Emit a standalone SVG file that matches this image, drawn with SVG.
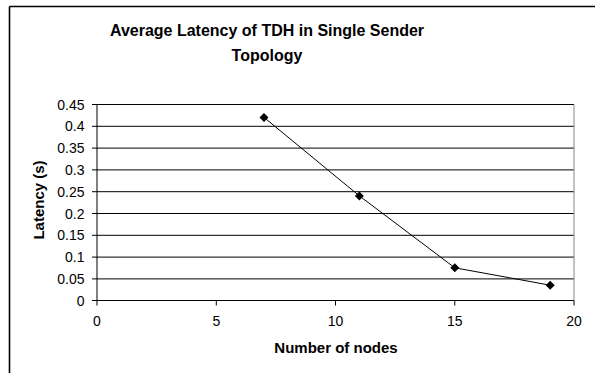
<svg xmlns="http://www.w3.org/2000/svg" width="595" height="373" viewBox="0 0 595 373">
  <style>
    .t { font-family: "Liberation Sans", Arial, sans-serif; fill: #000; }
    .title { font-size: 16px; font-weight: bold; text-anchor: middle; }
    .tick { font-size: 14px; }
    .yl { text-anchor: end; }
    .xl { text-anchor: middle; }
    .axt { font-size: 15px; font-weight: bold; text-anchor: middle; }
    .grid { stroke: #000; stroke-width: 1; }
    .axis { stroke: #000; stroke-width: 1; }
    .series { fill: none; stroke: #000; stroke-width: 1; }
  </style>
  <defs>
    <path id="dia" d="M0,-4.5 L4.5,0 L0,4.5 L-4.5,0 Z" fill="#000"/>
  </defs>
  <rect width="595" height="373" fill="#fff"/>

  <!-- chart frame (top and left edges) -->
  <g id="frame" stroke="#000" stroke-width="1.6" fill="none">
    <line x1="9.5" y1="6.5" x2="595" y2="6.5"/>
    <line x1="9.5" y1="6.5" x2="9.5" y2="373"/>
  </g>

  <g id="title">
    <text class="t title" x="267" y="36">Average Latency of TDH in Single Sender</text>
    <text class="t title" x="267" y="61">Topology</text>
  </g>

  <!-- plot area: x 97..574, y 104.3..300.5 -->
  <g id="grid">
    <line class="grid" x1="97" y1="104.5" x2="574" y2="104.5" stroke="#888"/>
    <line class="grid" x1="97" y1="126.3" x2="574" y2="126.3"/>
    <line class="grid" x1="97" y1="148.1" x2="574" y2="148.1"/>
    <line class="grid" x1="97" y1="169.9" x2="574" y2="169.9" stroke="#666"/>
    <line class="grid" x1="97" y1="191.7" x2="574" y2="191.7"/>
    <line class="grid" x1="97" y1="213.5" x2="574" y2="213.5"/>
    <line class="grid" x1="97" y1="235.3" x2="574" y2="235.3"/>
    <line class="grid" x1="97" y1="257.1" x2="574" y2="257.1"/>
    <line class="grid" x1="97" y1="278.9" x2="574" y2="278.9"/>
    <line x1="574" y1="104.5" x2="574" y2="300.5" stroke="#888" stroke-width="1"/>
  </g>

  <g id="axes">
    <line class="axis" x1="97" y1="104" x2="97" y2="300.5"/>
    <line class="axis" x1="97" y1="300.5" x2="574" y2="300.5"/>
    <!-- y ticks -->
    <path class="axis" d="M92,104.5H97M92,126.3H97M92,148.1H97M92,169.9H97M92,191.7H97M92,213.5H97M92,235.3H97M92,257.1H97M92,278.9H97M92,300.5H97"/>
    <!-- x ticks -->
    <path class="axis" d="M97,300.5V305.5M216.3,300.5V305.5M335.5,300.5V305.5M454.8,300.5V305.5M574,300.5V305.5"/>
  </g>

  <g id="y-labels">
    <text class="t tick yl" x="84.5" y="109.5">0.45</text>
    <text class="t tick yl" x="84.5" y="131.3">0.4</text>
    <text class="t tick yl" x="84.5" y="153.1">0.35</text>
    <text class="t tick yl" x="84.5" y="174.9">0.3</text>
    <text class="t tick yl" x="84.5" y="196.7">0.25</text>
    <text class="t tick yl" x="84.5" y="218.5">0.2</text>
    <text class="t tick yl" x="84.5" y="240.3">0.15</text>
    <text class="t tick yl" x="84.5" y="262.1">0.1</text>
    <text class="t tick yl" x="84.5" y="283.9">0.05</text>
    <text class="t tick yl" x="84.5" y="305.5">0</text>
  </g>

  <g id="x-labels">
    <text class="t tick xl" x="97" y="326">0</text>
    <text class="t tick xl" x="216.3" y="326">5</text>
    <text class="t tick xl" x="335.5" y="326">10</text>
    <text class="t tick xl" x="454.8" y="326">15</text>
    <text class="t tick xl" x="574" y="326">20</text>
  </g>

  <g id="axis-titles">
    <text class="t axt" x="336" y="353">Number of nodes</text>
    <text class="t axt" transform="translate(44,200) rotate(-90)" x="0" y="0">Latency (s)</text>
  </g>

  <g id="series">
    <polyline class="series" points="264,117.4 359.4,195.9 454.8,267.8 550.2,285.2"/>
    <use href="#dia" x="264" y="117.4"/>
    <use href="#dia" x="359.4" y="195.9"/>
    <use href="#dia" x="454.8" y="267.8"/>
    <use href="#dia" x="550.2" y="285.2"/>
  </g>
</svg>
